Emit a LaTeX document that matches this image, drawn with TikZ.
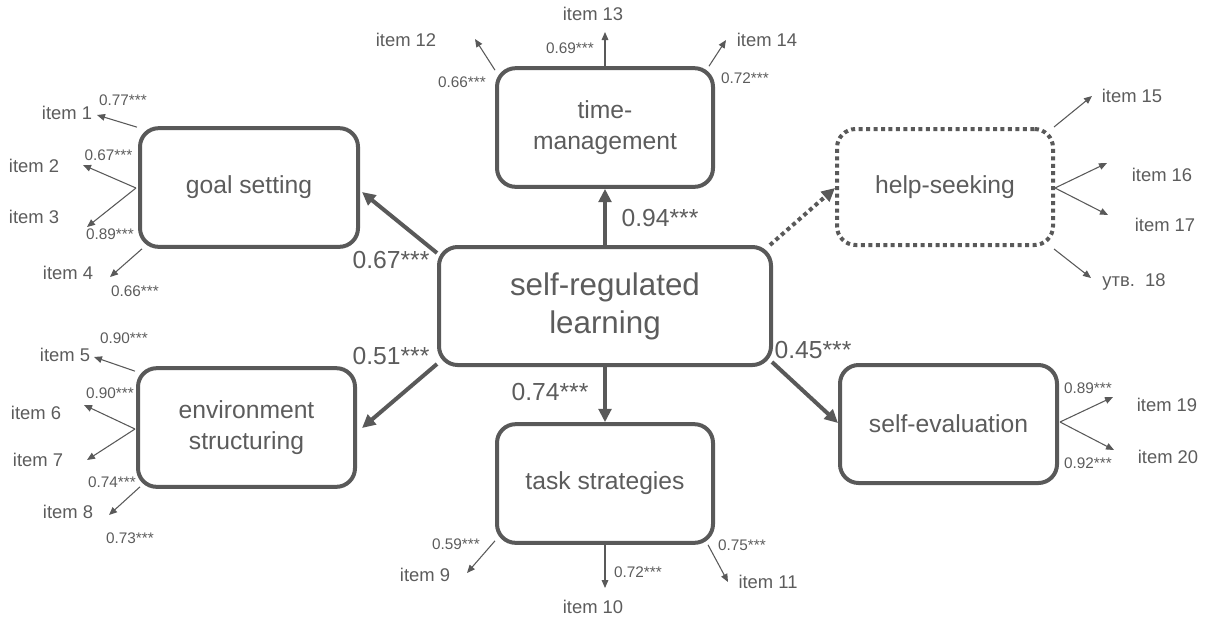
\documentclass[tikz,border=0pt]{standalone}
\usepackage{fontspec}
\setmainfont{Liberation Sans}
\usetikzlibrary{arrows.meta,calc}
\definecolor{ink}{HTML}{595959}
\definecolor{txt}{HTML}{5C5C5C}
\tikzset{
  box/.style={draw=ink, line width=3pt, rounded corners=14pt, align=center,
    text=txt, inner sep=0pt, font=\fontsize{18.5}{22.8}\selectfont},
  dotbox/.style={box, dash pattern=on 3pt off 2.6pt},
  mainarrow/.style={draw=ink, line width=3pt, -{Triangle[length=10pt,width=9.5pt]}},
  dotarrow/.style={mainarrow, dash pattern=on 3pt off 2.6pt},
  mainlbl/.style={text=txt, inner sep=0pt, font=\fontsize{18.5}{22}\selectfont},
  load/.style={draw=ink, line width=0.8pt, -{Triangle[length=6pt,width=5pt]}},
  itemlbl/.style={text=txt, inner sep=0pt, text depth=0pt, font=\fontsize{13.8}{16}\selectfont},
  coef/.style={text=txt, inner sep=0pt, font=\fontsize{11.5}{13}\selectfont},
}
\begin{document}
\begin{tikzpicture}[x=0.75pt,y=-0.75pt]
\useasboundingbox (0,0) rectangle (1206,618);

% latent factors
\node[box, minimum width=249pt, minimum height=88.5pt, font=\fontsize{23.5}{28.5}\selectfont] (srl) at (605,306) {self-regulated\\learning};
\node[box, minimum width=163.5pt, minimum height=89pt] (gs) at (249,187.5) {goal setting};
\node[box, minimum width=162.75pt, minimum height=89pt] (env) at (246.5,427.5) {environment\\structuring};
\node[box, minimum width=162pt, minimum height=89pt] (tm) at (605,127.5) {time-\\management};
\node[dotbox, minimum width=162pt, minimum height=87pt] (hs) at (945,187) {help-seeking};
\node[box, minimum width=162.75pt, minimum height=88.5pt] (se) at (948.5,424) {self-evaluation};
\node[box, minimum width=162pt, minimum height=89pt] (ts) at (605,483.5) {task strategies};

% structural paths
\draw[mainarrow] ($(srl.north west)+(0,8)$) -- ($(gs.east)+(2,4.5)$);
\draw[mainarrow] (srl.north) -- (tm.south);
\draw[dotarrow] ($(srl.north east)+(-3,0)$) -- ($(hs.west)+(0,1)$);
\draw[mainarrow] ($(srl.south west)+(0,-3)$) -- ($(env.east)+(5,0.5)$);
\draw[mainarrow] (srl.south) -- (ts.north);
\draw[mainarrow] ($(srl.south east)+(-1,-5)$) -- ($(se.west)+(0,-1)$);

\node[mainlbl] (p1) at (391,260) {0.67***};
\node[mainlbl] (p2) at (660,218) {0.94***};
\node[mainlbl] (p3) at (391,356) {0.51***};
\node[mainlbl] (p4) at (813,350) {0.45***};
\node[mainlbl] (p5) at (550,392) {0.74***};

% indicator items
\node[itemlbl] (i1) at (67,113) {item 1};
\node[itemlbl] (i2) at (34,166) {item 2};
\node[itemlbl] (i3) at (34,217) {item 3};
\node[itemlbl] (i4) at (68,273) {item 4};
\node[itemlbl] (i5) at (65,355) {item 5};
\node[itemlbl] (i6) at (36,413) {item 6};
\node[itemlbl] (i7) at (38,460) {item 7};
\node[itemlbl] (i8) at (68,512) {item 8};
\node[itemlbl] (i9) at (425,575) {item 9};
\node[itemlbl] (i10) at (593,607) {item 10};
\node[itemlbl] (i11) at (768,582) {item 11};
\node[itemlbl] (i12) at (406,40) {item 12};
\node[itemlbl] (i13) at (593,14) {item 13};
\node[itemlbl] (i14) at (767,40) {item 14};
\node[itemlbl] (i15) at (1132,96) {item 15};
\node[itemlbl] (i16) at (1162,175) {item 16};
\node[itemlbl] (i17) at (1165,225) {item 17};
\node[itemlbl] (i18) at (1134,280) {утв.~~18};
\node[itemlbl] (i19) at (1167,405) {item 19};
\node[itemlbl] (i20) at (1168,457) {item 20};

% arrow ends beside the items
\coordinate (t1) at (97,115);
\coordinate (t2) at (83,165);
\coordinate (t3) at (87,227);
\coordinate (t4) at (110,277);
\coordinate (t5) at (94,357);
\coordinate (t6) at (84,405);
\coordinate (t7) at (87,460);
\coordinate (t8) at (109,515);
\coordinate (t9) at (467,573);
\coordinate (t10) at (605,588);
\coordinate (t11) at (728,582);
\coordinate (t12) at (475,39);
\coordinate (t13) at (605,32);
\coordinate (t14) at (726,40);
\coordinate (t15) at (1092,96);
\coordinate (t16) at (1107,163);
\coordinate (t17) at (1108,215);
\coordinate (t18) at (1091,278);
\coordinate (t19) at (1113,397);
\coordinate (t20) at (1114,450);

% loadings
\draw[load] ($(gs.north west)+(-1,1)$) -- (t1);
\draw[load] ($(gs.west)+(-2,0.5)$) -- (t2);
\draw[load] ($(gs.west)+(-2,0.5)$) -- (t3);
\draw[load] ($(gs.south west)+(4,0)$) -- (t4);
\draw[load] ($(env.north west)+(-1,5)$) -- (t5);
\draw[load] ($(env.west)+(-1,1.5)$) -- (t6);
\draw[load] ($(env.west)+(-1,1.5)$) -- (t7);
\draw[load] ($(env.south west)+(4,-2)$) -- (t8);
\draw[load] ($(ts.south west)+(0,-4)$) -- (t9);
\draw[load] (ts.south) -- (t10);
\draw[load] ($(ts.south east)+(-7,0)$) -- (t11);
\draw[load] ($(tm.north west)+(0,4)$) -- (t12);
\draw[load] (tm.north) -- (t13);
\draw[load] ($(tm.north east)+(-6,0)$) -- (t14);
\draw[load] ($(hs.north east)+(-1,0)$) -- (t15);
\draw[load] ($(hs.east)+(0,1)$) -- (t16);
\draw[load] ($(hs.east)+(0,1)$) -- (t17);
\draw[load] ($(hs.south east)+(-1,2)$) -- (t18);
\draw[load] ($(se.east)+(1,-2)$) -- (t19);
\draw[load] ($(se.east)+(1,-2)$) -- (t20);

\node[coef] (c1) at (123,100) {0.77***};
\node[coef] (c2) at (108.5,155) {0.67***};
\node[coef] (c3) at (110,234) {0.89***};
\node[coef] (c4) at (135,291) {0.66***};
\node[coef] (c5) at (124,338) {0.90***};
\node[coef] (c6) at (110,393) {0.90***};
\node[coef] (c7) at (112,482) {0.74***};
\node[coef] (c8) at (130,538) {0.73***};
\node[coef] (c9) at (456,544) {0.59***};
\node[coef] (c10) at (638,572) {0.72***};
\node[coef] (c11) at (742,545) {0.75***};
\node[coef] (c12) at (462,82) {0.66***};
\node[coef] (c13) at (570,48) {0.69***};
\node[coef] (c14) at (745,78) {0.72***};
\node[coef] (c19) at (1088,388) {0.89***};
\node[coef] (c20) at (1088,463) {0.92***};
\end{tikzpicture}
\end{document}
